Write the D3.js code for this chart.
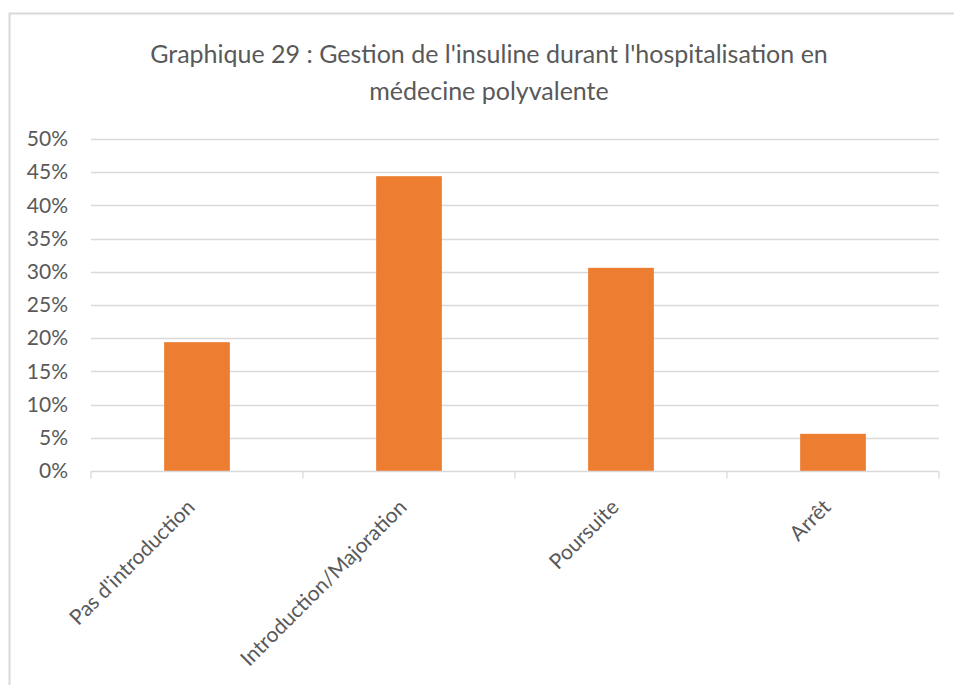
<!DOCTYPE html>
<html>
<head>
<meta charset="utf-8">
<script src="https://cdn.jsdelivr.net/npm/d3@7"></script>
<style>
  body { margin: 0; background: #fff; }
  svg { display: block; }
  text { font-family: Lato, "Open Sans", sans-serif; fill: #595959; }
</style>
</head>
<body>
<svg id="chart" width="954" height="685"></svg>
<script>
// chart data
const categories = ["Pas d'introduction", "Introduction/Majoration", "Poursuite", "Arrêt"];
const values = [0.194, 0.444, 0.306, 0.056];
const yTicks = [0, 0.05, 0.10, 0.15, 0.20, 0.25, 0.30, 0.35, 0.40, 0.45, 0.50];
const titleLines = ["Graphique 29 : Gestion de l'insuline durant l'hospitalisation en", "médecine polyvalente"];

const svg = d3.select("#chart");
const margin = { left: 91, right: 15, top: 139, bottom: 214 };
const width = 954, height = 685;
const labelFont = "21px";

// chart frame (only top/left edges visible in the crop)
svg.append("rect")
    .attr("x", 9.5).attr("y", 13.5)
    .attr("width", 1000).attr("height", 1000)
    .attr("fill", "none")
    .attr("stroke", "#D9D9D9")
    .attr("stroke-width", 2);

// title
svg.append("g").selectAll("text")
    .data(titleLines)
    .join("text")
    .attr("x", 489)
    .attr("y", (d, i) => 63 + i * 37)
    .attr("text-anchor", "middle")
    .style("font-size", "25px")
    .text(d => d);

const x = d3.scaleBand()
    .domain(categories)
    .range([margin.left, width - margin.right])
    .paddingInner(0.69)
    .paddingOuter(0.345);

const y = d3.scaleLinear()
    .domain([0, 0.5])
    .range([height - margin.bottom, margin.top]);

// gridlines
svg.append("g").selectAll("line")
    .data(yTicks.slice(1))
    .join("line")
    .attr("x1", margin.left).attr("x2", width - margin.right)
    .attr("y1", d => Math.round(y(d)) + 0.5).attr("y2", d => Math.round(y(d)) + 0.5)
    .attr("stroke", "#D9D9D9")
    .attr("stroke-width", 1.3);

// y labels
const yAxis = svg.append("g")
    .attr("transform", `translate(${margin.left},0)`)
    .call(d3.axisLeft(y).tickValues(yTicks).tickFormat(d3.format(".0%")).tickSize(0).tickPadding(23));
yAxis.select(".domain").remove();
yAxis.selectAll("text").style("font-size", labelFont).style("fill", "#595959").style("font-family", "Lato, 'Open Sans', sans-serif");

// bars
svg.append("g").selectAll("rect")
    .data(values)
    .join("rect")
    .attr("x", (d, i) => x(categories[i]))
    .attr("width", x.bandwidth())
    .attr("y", d => y(d))
    .attr("height", d => y(0) - y(d))
    .attr("fill", "#ED7D31");

// x axis: baseline with boundary ticks
const baseY = Math.round(y(0)) + 0.5;
const bounds = d3.range(categories.length + 1).map(i => margin.left + i * ((width - margin.right - margin.left) / categories.length));
const xg = svg.append("g");
xg.append("line")
    .attr("x1", margin.left).attr("x2", width - margin.right)
    .attr("y1", baseY).attr("y2", baseY)
    .attr("stroke", "#D9D9D9").attr("stroke-width", 1.3);
xg.selectAll("line.tick")
    .data(bounds)
    .join("line")
    .attr("class", "tick")
    .attr("x1", d => d).attr("x2", d => d)
    .attr("y1", baseY).attr("y2", baseY + 7)
    .attr("stroke", "#D9D9D9").attr("stroke-width", 1.3);

// rotated category labels
xg.selectAll("text")
    .data(categories)
    .join("text")
    .attr("text-anchor", "end")
    .attr("transform", d => `translate(${x(d) + x.bandwidth() / 2 - 1},${baseY + 37}) rotate(-45)`)
    .style("font-size", labelFont)
    .text(d => d);
</script>
</body>
</html>
